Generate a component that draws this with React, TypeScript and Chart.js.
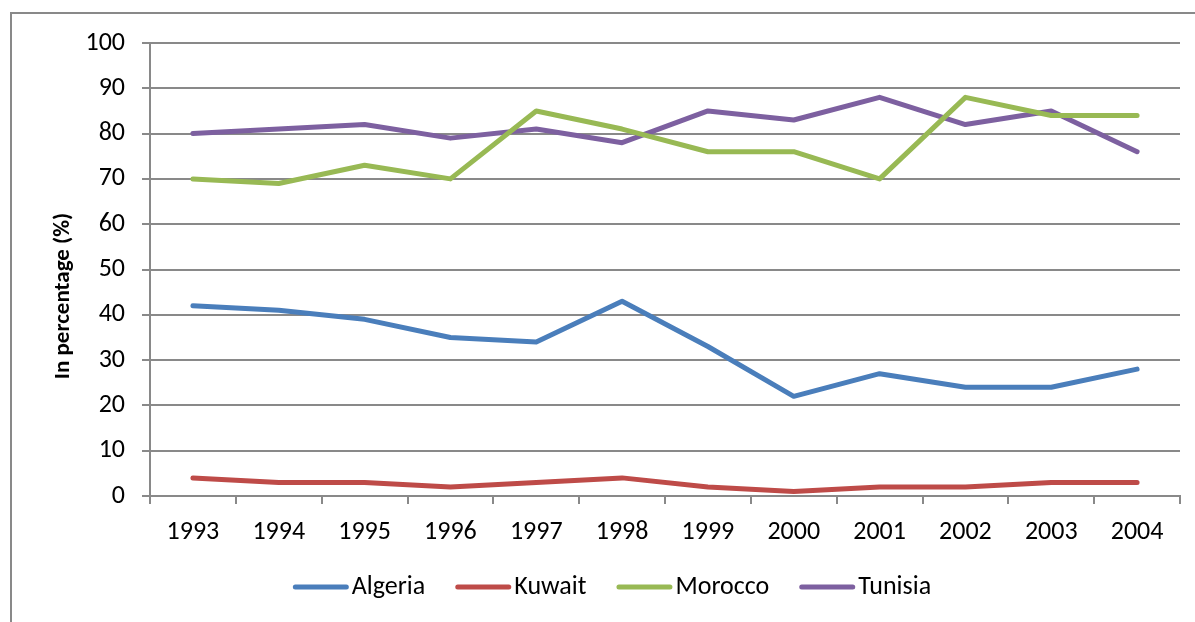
import React, { useEffect, useRef } from "react";
import { Chart, registerables } from "chart.js";

Chart.register(...registerables);

const years = ["1993", "1994", "1995", "1996", "1997", "1998", "1999", "2000", "2001", "2002", "2003", "2004"];
const algeria = [42, 41, 39, 35, 34, 43, 33, 22, 27, 24, 24, 28];
const kuwait = [4, 3, 3, 2, 3, 4, 2, 1, 2, 2, 3, 3];
const morocco = [70, 69, 73, 70, 85, 81, 76, 76, 70, 88, 84, 84];
const tunisia = [80, 81, 82, 79, 81, 78, 85, 83, 88, 82, 85, 76];
const seriesNames = ["Algeria", "Kuwait", "Morocco", "Tunisia"];
const seriesColors = ["#4A7EBB", "#BE4B48", "#98B954", "#7D60A0"];
const yMin = 0;
const yMax = 100;
const yStep = 10;
const yTitle = "In percentage (%)";

const W = 1195;
const H = 622;
const FONT = "Carlito, Roboto, 'Open Sans', 'Liberation Sans', sans-serif";
const GRID = "#898989";

export default function App() {
  const ref = useRef<HTMLCanvasElement | null>(null);

  useEffect(() => {
    if (!ref.current) return;
    let chart: any = null;
    let cancelled = false;
    const values = [algeria, kuwait, morocco, tunisia];

    const titlePlugin = {
      id: "yTitleCustom",
      afterDraw(c: any) {
        const ctx = c.ctx;
        ctx.save();
        ctx.translate(63, 296);
        ctx.rotate(-Math.PI / 2);
        ctx.font = `bold 23px ${FONT}`;
        ctx.fillStyle = "#000";
        ctx.textAlign = "center";
        ctx.textBaseline = "middle";
        ctx.fillText(yTitle, 0, 0);
        ctx.restore();
      },
    };

    const legendPlugin = {
      id: "legendCustom",
      afterDraw(c: any) {
        const ctx = c.ctx;
        ctx.save();
        ctx.font = `26px ${FONT}`;
        const lineLen = 56;
        const gap = 3;
        const spacing = 30;
        const ds = c.data.datasets;
        const widths = ds.map((d: any) => ctx.measureText(d.label).width);
        let total = 0;
        widths.forEach((w: number, i: number) => {
          total += lineLen + gap + w + (i < widths.length - 1 ? spacing : 0);
        });
        let x = 612 - total / 2;
        const y = 587;
        ds.forEach((d: any, i: number) => {
          ctx.strokeStyle = d.borderColor;
          ctx.lineWidth = 5;
          ctx.lineCap = "round";
          ctx.beginPath();
          ctx.moveTo(x + 2.5, y);
          ctx.lineTo(x + lineLen - 2.5, y);
          ctx.stroke();
          ctx.fillStyle = "#000";
          ctx.textAlign = "left";
          ctx.textBaseline = "middle";
          ctx.fillText(d.label, x + lineLen + gap, y);
          x += lineLen + gap + widths[i] + spacing;
        });
        ctx.restore();
      },
    };

    const build = () => {
      if (cancelled || !ref.current) return;
      chart = new Chart(ref.current, {
        type: "line",
        data: {
          labels: years,
          datasets: seriesNames.map((name, i) => ({
            label: name,
            data: values[i],
            borderColor: seriesColors[i],
            backgroundColor: seriesColors[i],
            borderWidth: 5,
            pointRadius: 0,
            pointHoverRadius: 0,
            tension: 0,
            borderCapStyle: "round",
            borderJoinStyle: "round",
            fill: false,
          })),
        },
        options: {
          responsive: false,
          animation: false,
          devicePixelRatio: 1,
          layout: { padding: { left: 0, top: 43, right: 15, bottom: 56 } },
          plugins: {
            legend: { display: false },
            tooltip: { enabled: false },
            title: { display: false },
          },
          scales: {
            x: {
              type: "category",
              offset: true,
              afterFit(scale: any) {
                scale.height = 70;
              },
              grid: {
                offset: true,
                drawOnChartArea: false,
                drawTicks: true,
                tickLength: 8,
                color: GRID,
                lineWidth: 2,
              },
              border: { display: true, color: GRID, width: 2 },
              ticks: {
                color: "#000",
                font: { family: FONT, size: 26 },
                padding: 13,
                maxRotation: 0,
                autoSkip: false,
              },
            },
            y: {
              min: yMin,
              max: yMax,
              afterFit(scale: any) {
                scale.width = 150;
              },
              grid: {
                color: GRID,
                lineWidth: 2,
                tickLength: 8,
                drawTicks: true,
              },
              border: { display: true, color: GRID, width: 2 },
              ticks: {
                stepSize: yStep,
                color: "#000",
                font: { family: FONT, size: 26 },
                padding: 17,
              },
            },
          },
        },
        plugins: [titlePlugin, legendPlugin],
      } as any);
    };

    const fonts: any = (document as any).fonts;
    if (fonts && fonts.load) {
      Promise.all([
        fonts.load("26px Carlito"),
        fonts.load("bold 23px Carlito"),
      ])
        .catch(() => null)
        .then(() => build());
    } else {
      build();
    }

    return () => {
      cancelled = true;
      if (chart) chart.destroy();
    };
  }, []);

  return (
    <div style={{ position: "absolute", left: 0, top: 0, width: W, height: H, overflow: "hidden", background: "#fff" }}>
      <div
        style={{
          position: "absolute",
          left: 10,
          top: 12,
          width: W + 50,
          height: H + 50,
          borderLeft: "2px solid #898989",
          borderTop: "2px solid #898989",
          boxSizing: "border-box",
        }}
      />
      <canvas ref={ref} width={W} height={H} style={{ position: "absolute", left: 0, top: 0, width: W, height: H, display: "block" }} />
    </div>
  );
}
